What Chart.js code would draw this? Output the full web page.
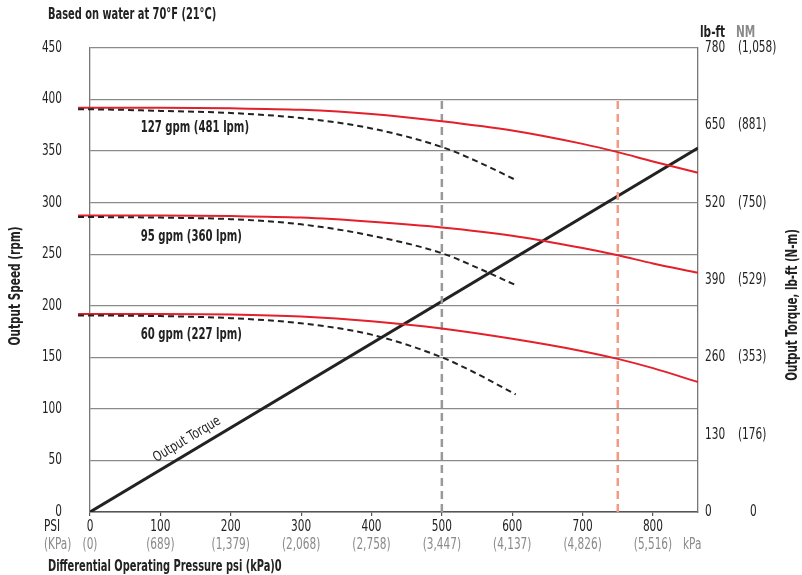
<!DOCTYPE html>
<html>
<head>
<meta charset="utf-8">
<script src="https://cdn.jsdelivr.net/npm/chart.js@4"></script>
<style>
  body { margin: 0; background: #fff; }
</style>
</head>
<body>
<canvas id="chart" width="802" height="575"></canvas>
<script>
// solid red curves (speed vs pressure)
const psiSolid = [-17, 0, 100, 200, 300, 400, 500, 600, 700, 750, 800, 864];
const red127 = [392, 392, 392, 391.5, 390, 386, 379, 370, 357, 349, 340, 329];
const red95 = [287.5, 287.5, 287.5, 287, 285.5, 281.5, 276, 268, 256, 249, 241, 232];
const red60 = [192, 192, 192, 191.5, 189.5, 185, 178, 168, 156, 148.5, 139.5, 126];

// dashed black curves
const psiDash = [-17, 0, 100, 200, 300, 400, 500, 550, 605];
const dash127 = [390.5, 390.5, 389, 387, 382, 372, 354, 340, 322];
const dash95 = [286, 286, 285.5, 284, 279, 268, 251, 237, 220];
const dash60 = [190.5, 190.5, 190, 188, 183, 172, 150, 134, 114];

// output torque (lb-ft, right axis)
const torquePsi = [0, 864];
const torqueLbft = [0, 612];

// vertical reference lines
const refPsi = [500, 750];
const refTop = 400;

const flowLabels = ["127 gpm (481 lpm)", "95 gpm (360 lpm)", "60 gpm (227 lpm)"];
const kpaLabels = ["(0)", "(689)", "(1,379)", "(2,068)", "(2,758)", "(3,447)", "(4,137)", "(4,826)", "(5,516)"];
const nmLabels = ["0", "(176)", "(353)", "(529)", "(750)", "(881)", "(1,058)"];

const FONT = "'DejaVu Sans Condensed', 'DejaVu Sans', sans-serif";
Chart.defaults.font.family = FONT;
Chart.defaults.color = "#222";

function pts(xs, ys) {
    return xs.map((x, i) => ({ x: x, y: ys[i] }));
}

function curve(xs, ys, color, dash) {
    return {
        data: pts(xs, ys),
        borderColor: color,
        borderWidth: 2,
        borderDash: dash ? [6, 4] : [],
        pointRadius: 0,
        cubicInterpolationMode: "monotone",
        clip: false,
        yAxisID: "y"
    };
}

const datasets = [
    curve(psiDash, dash127, "#222", true),
    curve(psiDash, dash95, "#222", true),
    curve(psiDash, dash60, "#222", true),
    curve(psiSolid, red127, "#e3202b", false),
    curve(psiSolid, red95, "#e3202b", false),
    curve(psiSolid, red60, "#e3202b", false),
    {
        data: [{ x: refPsi[0], y: 0 }, { x: refPsi[0], y: refTop }],
        borderColor: "#999",
        borderWidth: 2.5,
        borderDash: [8, 5],
        pointRadius: 0,
        yAxisID: "y"
    },
    {
        data: [{ x: refPsi[1], y: 0 }, { x: refPsi[1], y: refTop }],
        borderColor: "#f59a80",
        borderWidth: 2.5,
        borderDash: [8, 5],
        pointRadius: 0,
        yAxisID: "y"
    },
    {
        data: pts(torquePsi, torqueLbft),
        borderColor: "#222",
        borderWidth: 3,
        pointRadius: 0,
        yAxisID: "y2"
    }
];

// narrow text, the reference uses a condensed face
function txt(ctx, s, x, y, align, rot, sq) {
    ctx.save();
    ctx.translate(x, y);
    if (rot) ctx.rotate(rot);
    ctx.scale(sq || 0.78, 1);
    ctx.textAlign = align || "left";
    ctx.fillText(s, 0, 0);
    ctx.restore();
}

const textPlugin = {
    id: "texts",
    afterDraw(chart) {
        const ctx = chart.ctx;
        const x = chart.scales.x;
        const y = chart.scales.y;
        const y2 = chart.scales.y2;
        ctx.save();
        ctx.textBaseline = "middle";

        // titles
        ctx.font = "bold 15px " + FONT;
        ctx.fillStyle = "#222";
        txt(ctx, "Based on water at 70°F (21°C)", 48, 15, "left", 0, 0.73);
        txt(ctx, "Differential Operating Pressure psi (kPa)0", 48, 567, "left", 0, 0.73);

        // tick labels
        ctx.font = "15px " + FONT;
        y.ticks.forEach(t => txt(ctx, String(t.value), 62, y.getPixelForValue(t.value), "right"));
        x.ticks.forEach(t => txt(ctx, String(t.value), x.getPixelForValue(t.value), 527, "center"));
        y2.ticks.forEach(t => txt(ctx, String(t.value), 705, y2.getPixelForValue(t.value), "left"));
        nmLabels.forEach((t, i) => txt(ctx, t, i === 0 ? 750 : 738, y2.getPixelForValue(i * 130), "left"));
        txt(ctx, "PSI", 44, 527);

        ctx.fillStyle = "#8a8a8a";
        kpaLabels.forEach((t, i) => txt(ctx, t, x.getPixelForValue(i * 100), 545, "center"));
        txt(ctx, "kPa", 683, 545);
        txt(ctx, "(KPa)", 44, 545);

        // right header
        ctx.font = "bold 15px " + FONT;
        txt(ctx, "NM", 736, 33);
        ctx.fillStyle = "#222";
        txt(ctx, "lb-ft", 700, 33);

        // axis titles
        txt(ctx, "Output Speed (rpm)", 16, 286, "center", -Math.PI / 2);
        txt(ctx, "Output Torque, lb-ft (N-m)", 793, 305, "center", -Math.PI / 2, 0.76);

        // curve labels
        const labelRpm = [372, 267, 172];
        flowLabels.forEach((t, i) => txt(ctx, t, x.getPixelForValue(72), y.getPixelForValue(labelRpm[i]), "left", 0, 0.75));

        // torque label along the line
        ctx.font = "14px " + FONT;
        const p0 = { x: x.getPixelForValue(0), y: y2.getPixelForValue(0) };
        const p1 = { x: x.getPixelForValue(864), y: y2.getPixelForValue(612) };
        const ang = Math.atan2(p1.y - p0.y, p1.x - p0.x);
        ctx.translate(x.getPixelForValue(135) + 2, y2.getPixelForValue(95) - 16);
        ctx.rotate(ang);
        ctx.scale(0.85, 1);
        ctx.textAlign = "center";
        ctx.fillText("Output Torque", 0, 0);
        ctx.restore();
    }
};

new Chart(document.getElementById("chart").getContext("2d"), {
    type: "line",
    data: { datasets: datasets },
    options: {
        responsive: false,
        animation: false,
        layout: { padding: { top: 48, left: 0, right: 0, bottom: 0 } },
        plugins: { legend: { display: false }, tooltip: { enabled: false } },
        scales: {
            x: {
                type: "linear",
                min: 0,
                max: 864,
                afterFit: s => { s.height = 63; },
                ticks: { stepSize: 100, includeBounds: false, display: false },
                grid: { drawOnChartArea: false, tickLength: 4, color: "#555", lineWidth: 1.2 },
                border: { color: "#555", width: 1.5 }
            },
            y: {
                position: "left",
                min: 0,
                max: 450,
                afterFit: s => { s.width = 90; },
                ticks: { stepSize: 50, display: false },
                grid: { drawTicks: false, color: "#8a8a8a", lineWidth: 1.3 },
                border: { color: "#777", width: 1.3 }
            },
            y2: {
                position: "right",
                min: 0,
                max: 780,
                afterFit: s => { s.width = 104; },
                ticks: { stepSize: 130, display: false },
                grid: { drawOnChartArea: false, drawTicks: false },
                border: { color: "#777", width: 1.3 }
            }
        }
    },
    plugins: [textPlugin]
});
</script>
</body>
</html>
